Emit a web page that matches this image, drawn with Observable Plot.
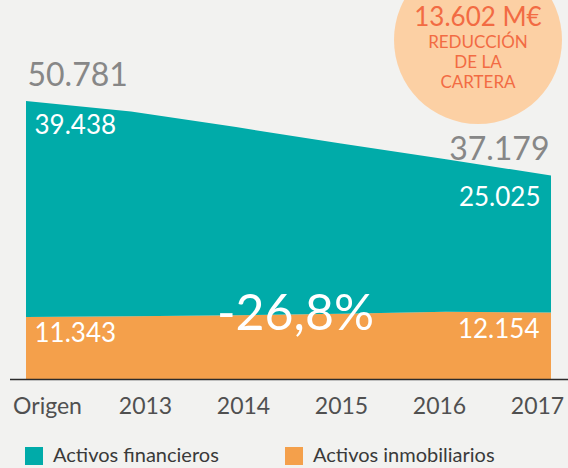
<!DOCTYPE html>
<html>
<head>
<meta charset="utf-8">
<script src="https://cdn.jsdelivr.net/npm/d3@7"></script>
<script src="https://cdn.jsdelivr.net/npm/@observablehq/plot@0.6"></script>
<style>
  html, body { margin: 0; padding: 0; background: #f2f2f0; }
  #wrap { position: relative; width: 568px; height: 468px; overflow: hidden; background: #f2f2f0;
          font-family: Lato, "Open Sans", sans-serif; }
  #wrap svg { position: absolute; left: 0; top: 0; }
  .bubble { position: absolute; left: 394px; top: -44px; width: 168px; height: 168px; border-radius: 50%; background: #fcd0a4; }
  .btext { position: absolute; left: 394px; width: 168px; text-align: center; color: #f26b43; line-height: 1; }
  .legend { position: absolute; top: 445px; left: 25px; height: 22px; font-size: 20px; color: #3a3a3a; }
  .legend span.item { position: absolute; top: 0; white-space: nowrap; }
  .legend i { position: absolute; top: 2px; width: 18px; height: 18px; }
  .legend b { position: absolute; top: -3px; font-weight: normal; }
</style>
</head>
<body>
<div id="wrap"></div>
<script>
// ---- data (M€) ----
const years = ["Origen", "2013", "2014", "2015", "2016", "2017"];
const financieros = [39438, 37430, 34360, 31070, 27840, 25025];
const inmobiliarios = [11343, 11440, 11650, 11930, 12300, 12154];
const series = ["Activos financieros", "Activos inmobiliarios"];
const colors = ["#00aba9", "#f4a04b"];

const FONT = "Lato, 'Open Sans', sans-serif";
const loc = d3.formatLocale({decimal: ",", thousands: ".", grouping: [3], currency: ["", "€"], minus: "-"});
const fmt = loc.format(",d");
const pct = loc.format(".1%");

const rows = [];
years.forEach((y, i) => {
  rows.push({year: y, serie: series[1], value: inmobiliarios[i]});
  rows.push({year: y, serie: series[0], value: financieros[i]});
});
const totals = years.map((y, i) => ({year: y, fin: financieros[i], inm: inmobiliarios[i], total: financieros[i] + inmobiliarios[i]}));
const first = totals[0], last = totals[totals.length - 1];
const mid = {year: years[2], inm: (inmobiliarios[2] + inmobiliarios[3]) / 2, change: (last.total - first.total) / first.total};

const wrap = document.getElementById("wrap");

const main = Plot.plot({
  width: 568, height: 430,
  marginLeft: 25, marginRight: 17, marginTop: 101, marginBottom: 51,
  style: {background: "transparent", fontFamily: FONT, overflow: "visible"},
  x: {type: "point", domain: years, padding: 0, axis: null},
  y: {domain: [0, d3.max(totals, d => d.total)], axis: null},
  color: {domain: series, range: colors},
  marks: [
    Plot.areaY(rows, {x: "year", y: "value", fill: "serie", order: [series[1], series[0]]}),
    Plot.ruleY([0], {stroke: "#2b2b2b", strokeWidth: 1.5, insetLeft: -15, insetRight: -17}),
    // totals
    Plot.text([first], {x: "year", y: "total", text: d => fmt(d.total), textAnchor: "start", lineAnchor: "bottom", dx: 1, dy: -16, fill: "#878787", fontSize: 32}),
    Plot.text([last], {x: "year", y: "total", text: d => fmt(d.total), textAnchor: "end", lineAnchor: "bottom", dx: -2, dy: -16, fill: "#878787", fontSize: 32}),
    // financieros
    Plot.text([first], {x: "year", y: "total", text: d => fmt(d.fin), textAnchor: "start", lineAnchor: "top", dx: 8, dy: 14, fill: "white", fontSize: 26}),
    Plot.text([last], {x: "year", y: "total", text: d => fmt(d.fin), textAnchor: "end", lineAnchor: "top", dx: -11, dy: 12, fill: "white", fontSize: 26}),
    // inmobiliarios
    Plot.text([first], {x: "year", y: "inm", text: d => fmt(d.inm), textAnchor: "start", lineAnchor: "top", dx: 8, dy: 6, fill: "white", fontSize: 26}),
    Plot.text([last], {x: "year", y: "inm", text: d => fmt(d.inm), textAnchor: "end", lineAnchor: "top", dx: -12, dy: 7, fill: "white", fontSize: 26}),
    // change
    Plot.text([mid], {x: "year", y: "inm", text: d => pct(d.change), textAnchor: "middle", lineAnchor: "bottom", dx: 59, dy: 15, fill: "white", fontSize: 50})
  ]
});
wrap.appendChild(main);

const axis = Plot.plot({
  width: 568, height: 430,
  marginLeft: 46, marginRight: 31, marginTop: 0, marginBottom: 51,
  style: {background: "transparent", fontFamily: FONT, overflow: "visible", color: "#505050"},
  x: {type: "point", domain: years, padding: 0},
  marks: [Plot.axisX({tickSize: 0, tickPadding: 18, fontSize: 23, label: null})]
});
wrap.appendChild(axis);

// bubble annotation
const bubble = document.createElement("div");
bubble.className = "bubble";
wrap.appendChild(bubble);
const lines = [
  {t: fmt(first.total - last.total) + " M€", top: 3, size: 26},
  {t: "REDUCCIÓN", top: 33, size: 17},
  {t: "DE LA", top: 53, size: 17},
  {t: "CARTERA", top: 73, size: 17}
];
lines.forEach(l => {
  const d = document.createElement("div");
  d.className = "btext";
  d.style.top = l.top + "px";
  d.style.fontSize = l.size + "px";
  d.textContent = l.t;
  wrap.appendChild(d);
});

// legend
const legend = document.createElement("div");
legend.className = "legend";
const lx = [0, 260];
series.forEach((s, i) => {
  const it = document.createElement("span");
  it.className = "item";
  it.style.left = lx[i] + "px";
  it.innerHTML = `<i style="left:0;background:${colors[i]}"></i><b style="left:28px">${s}</b>`;
  legend.appendChild(it);
});
wrap.appendChild(legend);
</script>
</body>
</html>
